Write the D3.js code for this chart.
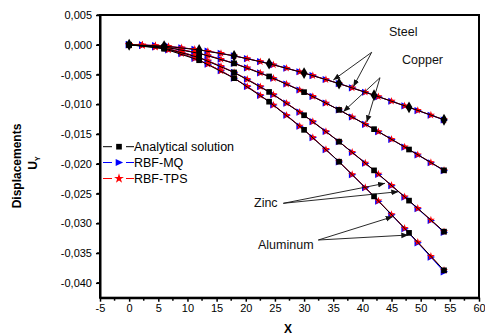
<!DOCTYPE html>
<html>
<head>
<meta charset="utf-8">
<script src="https://cdn.jsdelivr.net/npm/d3@7"></script>
<style>
  body { margin: 0; background: #fff; }
  svg { display: block; font-family: "Liberation Sans", Arial, sans-serif; }
</style>
</head>
<body>
<svg id="chart" width="485" height="336"></svg>
<script>
// x positions of the analytical points and of the RBF nodes
const xExact = [0, 6, 12, 18, 24, 30, 36, 42, 48, 54];
const xNodes = [0, 2.25, 4.5, 6.75, 9, 11.25, 13.5, 15.75, 18, 20.25, 22.5, 24.75, 27,
  29.25, 31.5, 33.75, 36, 38.25, 40.5, 42.75, 45, 47.25, 49.5, 51.75, 54];

const materials = ['Steel', 'Copper', 'Zinc', 'Aluminum'];

const exactSteel = [0, -0.000225, -0.000864, -0.001867, -0.00318, -0.00475, -0.00653, -0.00847, -0.01051, -0.0126];
const exactCopper = [0, -0.000376, -0.001447, -0.003126, -0.005326, -0.00796, -0.01094, -0.01418, -0.0176, -0.0211];
const exactZinc = [0, -0.00056, -0.002154, -0.004652, -0.007925, -0.011845, -0.016281, -0.021106, -0.026188, -0.0314];
const exactAluminum = [0, -0.000676, -0.0026, -0.005615, -0.009566, -0.014297, -0.019652, -0.025475, -0.031609, -0.0379];

const tpsSteel = [0, -0.00003, -0.00013, -0.00028, -0.00050, -0.00076, -0.00108, -0.00145, -0.00187, -0.00233,
  -0.00283, -0.00336, -0.00394, -0.00454, -0.00518, -0.00584, -0.00653, -0.00724, -0.00797, -0.00872,
  -0.00948, -0.01025, -0.01103, -0.01181, -0.01260];
const tpsCopper = [0, -0.00005, -0.00021, -0.00047, -0.00083, -0.00128, -0.00181, -0.00243, -0.00313, -0.00389,
  -0.00473, -0.00563, -0.00659, -0.00761, -0.00868, -0.00979, -0.01094, -0.01213, -0.01335, -0.01460,
  -0.01587, -0.01716, -0.01847, -0.01978, -0.02110];
const tpsZinc = [0, -0.00008, -0.00032, -0.00071, -0.00124, -0.00190, -0.00270, -0.00362, -0.00465, -0.00580,
  -0.00704, -0.00838, -0.00981, -0.01132, -0.01291, -0.01457, -0.01628, -0.01805, -0.01987, -0.02173,
  -0.02362, -0.02554, -0.02748, -0.02944, -0.03140];
const tpsAluminum = [0, -0.00010, -0.00038, -0.00085, -0.00149, -0.00230, -0.00326, -0.00437, -0.00561, -0.00700,
  -0.00850, -0.01012, -0.01184, -0.01367, -0.01558, -0.01758, -0.01965, -0.02179, -0.02398, -0.02623,
  -0.02851, -0.03083, -0.03317, -0.03553, -0.03790];

const mqSteel = [0, -0.00003, -0.00013, -0.00028, -0.00050, -0.00076, -0.00108, -0.00145, -0.00187, -0.00233,
  -0.00283, -0.00336, -0.00394, -0.00454, -0.00518, -0.00584, -0.00653, -0.00724, -0.00798, -0.00873,
  -0.00950, -0.01027, -0.01106, -0.01185, -0.01264];
const mqCopper = [0, -0.00005, -0.00021, -0.00047, -0.00083, -0.00128, -0.00181, -0.00243, -0.00313, -0.00389,
  -0.00473, -0.00563, -0.00659, -0.00761, -0.00868, -0.00979, -0.01095, -0.01214, -0.01337, -0.01462,
  -0.01590, -0.01720, -0.01851, -0.01983, -0.02116];
const mqZinc = [0, -0.00008, -0.00032, -0.00071, -0.00124, -0.00190, -0.00270, -0.00362, -0.00465, -0.00580,
  -0.00704, -0.00838, -0.00981, -0.01133, -0.01292, -0.01458, -0.01630, -0.01808, -0.01990, -0.02177,
  -0.02367, -0.02560, -0.02756, -0.02953, -0.03152];
const mqAluminum = [0, -0.00010, -0.00038, -0.00085, -0.00149, -0.00230, -0.00326, -0.00437, -0.00561, -0.00700,
  -0.00850, -0.01012, -0.01185, -0.01368, -0.01560, -0.01761, -0.01969, -0.02184, -0.02403, -0.02628,
  -0.02858, -0.03092, -0.03328, -0.03567, -0.03815];

const xTicks = [-5, 0, 5, 10, 15, 20, 25, 30, 35, 40, 45, 50, 55, 60];
const yTicks = [0.005, 0, -0.005, -0.01, -0.015, -0.02, -0.025, -0.03, -0.035, -0.04];
const legendLabels = ['Analytical solution', 'RBF-MQ', 'RBF-TPS'];

const exact = [exactSteel, exactCopper, exactZinc, exactAluminum];
const tps = [tpsSteel, tpsCopper, tpsZinc, tpsAluminum];
const mq = [mqSteel, mqCopper, mqZinc, mqAluminum];

const plotLeft = 100, plotRight = 479, plotTop = 15, plotBottom = 297.7;

const svg = d3.select('#chart');

const x = d3.scaleLinear().domain([-5, 60]).range([plotLeft, plotRight]);
const y = d3.scaleLinear().domain([-0.0425, 0.005]).range([plotBottom, plotTop]);

const fmt = (d) => d3.format('.3f')(d).replace('.', ',').replace('−', '-');

// arrowhead
svg.append('defs').append('marker')
  .attr('id', 'arrow')
  .attr('viewBox', '0 0 10 10')
  .attr('refX', 10).attr('refY', 5)
  .attr('markerWidth', 7).attr('markerHeight', 7)
  .attr('markerUnits', 'userSpaceOnUse')
  .attr('orient', 'auto')
  .append('path')
  .attr('d', 'M0,1 L10,5 L0,9 Z')
  .attr('fill', '#111');

// frame
svg.append('rect')
  .attr('x', plotLeft).attr('y', plotTop)
  .attr('width', plotRight - plotLeft).attr('height', plotBottom - plotTop)
  .attr('fill', 'none').attr('stroke', '#000').attr('stroke-width', 2);

// axes
const xAxis = d3.axisBottom(x).tickValues(xTicks).tickSize(4).tickSizeOuter(0).tickPadding(3);
const gx = svg.append('g').attr('transform', `translate(0,${plotBottom})`).call(xAxis);
gx.select('.domain').attr('stroke-width', 2);
gx.selectAll('.tick line').attr('stroke-width', 1.5);
gx.selectAll('.tick text').attr('font-size', 11).attr('fill', '#000')
  .text((d) => String(d).replace('−', '-'));

const xMinor = d3.range(-2.5, 60, 5);
svg.append('g').selectAll('line').data(xMinor).join('line')
  .attr('x1', (d) => x(d)).attr('x2', (d) => x(d))
  .attr('y1', plotBottom).attr('y2', plotBottom + 3)
  .attr('stroke', '#000').attr('stroke-width', 1.5);

const yAxis = d3.axisLeft(y).tickValues(yTicks).tickSize(4).tickSizeOuter(0).tickPadding(4).tickFormat(fmt);
const gy = svg.append('g').attr('transform', `translate(${plotLeft},0)`).call(yAxis);
gy.select('.domain').attr('stroke-width', 2);
gy.selectAll('.tick line').attr('stroke-width', 1.5);
gy.selectAll('.tick text').attr('font-size', 11).attr('fill', '#000');

const yMinor = d3.range(-0.0425, 0.005, 0.005).map((d) => d + 0.0025).filter((d) => d < 0.005);
svg.append('g').selectAll('line').data(yMinor).join('line')
  .attr('x1', plotLeft).attr('x2', plotLeft - 3)
  .attr('y1', (d) => y(d)).attr('y2', (d) => y(d))
  .attr('stroke', '#000').attr('stroke-width', 1.5);

// axis titles
svg.append('text')
  .attr('transform', 'translate(21,166) rotate(-90)')
  .attr('text-anchor', 'middle')
  .attr('font-size', 12).attr('font-weight', 'bold')
  .text('Displacements');
const uy = svg.append('text')
  .attr('transform', 'translate(37,163) rotate(-90)')
  .attr('text-anchor', 'middle')
  .attr('font-size', 12).attr('font-weight', 'bold');
uy.append('tspan').text('U');
uy.append('tspan').attr('font-size', 7).attr('dy', 3).text('Y');

svg.append('text')
  .attr('x', 288).attr('y', 333)
  .attr('text-anchor', 'middle')
  .attr('font-size', 12).attr('font-weight', 'bold')
  .text('X');

// markers
const triRight = (s) => `M${-s * 0.6},${-s * 0.65}L${s * 0.75},0L${-s * 0.6},${s * 0.65}Z`;
const star = d3.symbol().type(d3.symbolStar).size(20);
const square = d3.symbol().type(d3.symbolSquare).size(32);
const diamond = d3.symbol().type(d3.symbolDiamond).size(40);

const line = d3.line().x((d) => x(d[0])).y((d) => y(d[1]));
const plot = svg.append('g');

function drawSeries(xs, ys, color, markerFn) {
  const pts = xs.map((v, i) => [v, ys[i]]);
  plot.append('path')
    .attr('d', line(pts))
    .attr('fill', 'none')
    .attr('stroke', color)
    .attr('stroke-width', 1);
  plot.append('g').selectAll('path').data(pts).join('path')
    .attr('transform', (d) => `translate(${x(d[0])},${y(d[1])})`)
    .attr('d', markerFn)
    .attr('fill', color);
}

materials.forEach((m, i) => {
  drawSeries(xNodes, mq[i], '#0000ff', () => triRight(5.5));
});
materials.forEach((m, i) => {
  drawSeries(xNodes, tps[i], '#ff0000', () => star());
});
materials.forEach((m, i) => {
  drawSeries(xExact, exact[i], '#000', () => (m === 'Steel' ? diamond() : square()));
});

// legend
const legendColors = ['#000', '#0000ff', '#ff0000'];
const legendMarks = [() => square(), () => triRight(5.5), () => d3.symbol().type(d3.symbolStar).size(30)()];
const legendY = [146.7, 162.5, 178.5];
const lg = svg.append('g');
legendLabels.forEach((label, i) => {
  const yy = legendY[i];
  lg.append('line').attr('x1', 103).attr('x2', 112).attr('y1', yy).attr('y2', yy)
    .attr('stroke', legendColors[i]).attr('stroke-width', 1);
  lg.append('line').attr('x1', 126).attr('x2', 134).attr('y1', yy).attr('y2', yy)
    .attr('stroke', legendColors[i]).attr('stroke-width', 1);
  lg.append('path').attr('transform', `translate(119,${yy})`)
    .attr('d', legendMarks[i]()).attr('fill', legendColors[i]);
  lg.append('text').attr('x', 134).attr('y', yy + 4.5)
    .attr('font-size', 12.5).attr('fill', '#000').text(label);
});

// annotations
const notes = [
  { label: 'Steel', tx: 389, ty: 36, from: [371.7, 52.3], to: [[333.3, 80], [353.3, 86.7]] },
  { label: 'Copper', tx: 402, ty: 64, from: [380, 77.7], to: [[343.3, 111.7], [366.7, 122.3]] },
  { label: 'Zinc', tx: 254, ty: 207, from: [283.3, 203.3], to: [[385, 183.3], [398.3, 191.7]] },
  { label: 'Aluminum', tx: 258, ty: 249, from: [318.3, 240], to: [[392.7, 216.7], [408.3, 235]] }
];
const an = svg.append('g');
notes.forEach((n) => {
  an.append('text').attr('x', n.tx).attr('y', n.ty)
    .attr('font-size', 12.5).attr('fill', '#111').text(n.label);
  n.to.forEach((t) => {
    an.append('line')
      .attr('x1', n.from[0]).attr('y1', n.from[1])
      .attr('x2', t[0]).attr('y2', t[1])
      .attr('stroke', '#111').attr('stroke-width', 0.9)
      .attr('marker-end', 'url(#arrow)');
  });
});
</script>
</body>
</html>
